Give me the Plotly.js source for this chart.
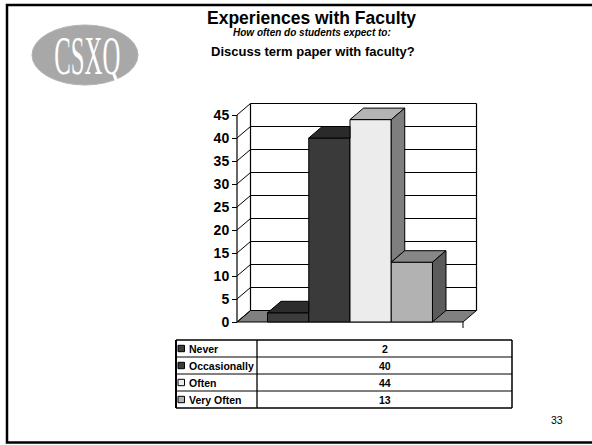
<!DOCTYPE html>
<html>
<head>
<meta charset="utf-8">
<script src="https://cdn.plot.ly/plotly-3.0.1.min.js"></script>
<style>
html,body{margin:0;padding:0;background:#fff;}
#chart{width:592px;height:445px;}
</style>
</head>
<body>
<div id="chart"></div>
<script>
// ---------- data ----------
const categories = ['Never', 'Occasionally', 'Often', 'Very Often'];
const values = [2, 40, 44, 13];
const yTickValues = [0, 5, 10, 15, 20, 25, 30, 35, 40, 45];
const yTickLabels = ['0', '5', '10', '15', '20', '25', '30', '35', '40', '45'];
const titleText = 'Experiences with Faculty';
const subtitleText = 'How often do students expect to:';
const questionText = 'Discuss term paper with faculty?';
const logoText = 'CSXQ';
const pageNumber = '33';

// ---------- styles ----------
const frontColors = ['#3c3c3c', '#3a3a3a', '#ececec', '#b2b2b2'];
const topColors   = ['#2c2c2c', '#2a2a2a', '#b4b4b4', '#878787'];
const sideColors  = ['#1e1e1e', '#1e1e1e', '#7e7e7e', '#5b5b5b'];
const floorColor = '#808080';
const FONT = 'Liberation Sans, Arial, sans-serif';

// ---------- geometry (pixels) ----------
const W = 592, H = 445;
const floorL = 237, floorR = 463, y0px = 322, pxPerUnit = 4.6;
const depthXpx = 13.5, depthYpx = 11.5;
const unitPx = floorR - floorL;
const ddx = depthXpx / unitPx;
const ddy = depthYpx / pxPerUnit;
const yMax = 45;
const bargap = 0.27;
const groupW = 1 - bargap;
const barW = groupW / values.length;

const xRange = [-0.5 - 3 / unitPx, 0.5 + ddx + 3 / unitPx];
const yRange = [-1, yMax + ddy + 0.6];
const xDomPx = [floorL + (xRange[0] + 0.5) * unitPx, floorL + (xRange[1] + 0.5) * unitPx];
const yDomPx = [y0px - yRange[0] * pxPerUnit, y0px - yRange[1] * pxPerUnit];
const PX = x => x / W;
const PY = y => 1 - y / H;

// ---------- traces ----------
const traces = [];
values.forEach((v, i) => {
  traces.push({
    type: 'bar', x: [0], y: [v], name: categories[i],
    width: barW, offset: -groupW / 2 + i * barW,
    marker: {color: frontColors[i], line: {color: '#000', width: 1}},
    hoverinfo: 'name+y', showlegend: false
  });
});
values.forEach((v, i) => {
  const x0 = -groupW / 2 + i * barW, x1 = x0 + barW;
  const next = i < values.length - 1 ? values[i + 1] : 0;
  // top face, clipped where the next (taller) bar hides it
  let tx, ty;
  if (next <= v) {
    tx = [x0, x1, x1 + ddx, x0 + ddx, x0];
    ty = [v, v, v + ddy, v + ddy, v];
  } else if (next >= v + ddy) {
    tx = [x0, x1, x1, x0 + ddx, x0];
    ty = [v, v, v + ddy, v + ddy, v];
  } else {
    const xr = x1 + ddx * (next - v) / ddy;
    tx = [x0, x1, x1, xr, x1 + ddx, x0 + ddx, x0];
    ty = [v, v, next, next, v + ddy, v + ddy, v];
  }
  traces.push({
    type: 'scatter', mode: 'lines', fill: 'toself', fillcolor: topColors[i],
    x: tx, y: ty,
    line: {color: '#000', width: 1}, hoverinfo: 'skip', showlegend: false
  });
  // side face, only the part above the next bar
  if (next < v) {
    traces.push({
      type: 'scatter', mode: 'lines', fill: 'toself', fillcolor: sideColors[i],
      x: [x1, x1, x1 + ddx, x1 + ddx, x1],
      y: [next, v, v + ddy, next + ddy, next],
      line: {color: '#000', width: 1}, hoverinfo: 'skip', showlegend: false
    });
  }
});

// ---------- shapes ----------
const shapes = [];
const L = (x0, y0, x1, y1, w, ref) => ({
  type: 'line', xref: ref || 'x', yref: ref || 'y', x0, y0, x1, y1,
  line: {color: '#000', width: w || 1}, layer: 'below'
});
// floor
shapes.push({
  type: 'path', xref: 'x', yref: 'y', layer: 'below',
  path: `M ${-0.5},0 L 0.5,0 L ${0.5 + ddx},${ddy} L ${-0.5 + ddx},${ddy} Z`,
  fillcolor: floorColor, line: {color: '#000', width: 1}
});
// back wall grid + left wall diagonals
yTickValues.forEach(t => {
  if (t > 0) shapes.push(L(-0.5 + ddx, t + ddy, 0.5 + ddx, t + ddy, 1.2));
  shapes.push(L(-0.5, t, -0.5 + ddx, t + ddy));
});
shapes.push(L(-0.5 + ddx, ddy, -0.5 + ddx, yMax + ddy, 1.2));
shapes.push(L(0.5 + ddx, ddy, 0.5 + ddx, yMax + ddy, 1.2));
shapes.push(L(-0.5, 0, -0.5, yMax, 1.2));
// bottom right tick
shapes.push(L(PX(floorR), PY(y0px), PX(floorR), PY(y0px + 6), 1, 'paper'));
// frame
shapes.push({type: 'rect', xref: 'paper', yref: 'paper', x0: PX(7), y0: PY(442.5), x1: PX(620), y1: PY(5),
  line: {color: '#000', width: 2.5}, layer: 'above'});
// logo ellipse
shapes.push({type: 'circle', xref: 'paper', yref: 'paper', x0: PX(32), x1: PX(138), y0: PY(85), y1: PY(25),
  fillcolor: '#a8a8a8', line: {color: '#b4b4b4', width: 1}, layer: 'above'});

// ---------- table ----------
const tblL = 176, tblDiv = 257, tblR = 512, tblTop = 340, rowH = 17;
const tblBot = tblTop + rowH * categories.length;
for (let r = 0; r <= categories.length; r++) {
  const y = tblTop + r * rowH;
  shapes.push(L(PX(tblL), PY(y), PX(tblR), PY(y), (r === 0 || r === categories.length) ? 1.5 : 1, 'paper'));
}
shapes.push(L(PX(tblL), PY(tblTop), PX(tblL), PY(tblBot), 2, 'paper'));
shapes.push(L(PX(tblDiv), PY(tblTop), PX(tblDiv), PY(tblBot), 1.3, 'paper'));
shapes.push(L(PX(tblR), PY(tblTop), PX(tblR), PY(tblBot), 1.5, 'paper'));

const annotations = [];
const A = (text, x, y, size, extra) => Object.assign({
  text, xref: 'paper', yref: 'paper', x: PX(x), y: PY(y), showarrow: false,
  xanchor: 'center', yanchor: 'middle', font: {family: FONT, size, color: '#000'}
}, extra || {});

categories.forEach((c, r) => {
  const yc = tblTop + r * rowH + rowH / 2;
  shapes.push({type: 'rect', xref: 'paper', yref: 'paper', x0: PX(178), x1: PX(184.5), y0: PY(yc + 3.2), y1: PY(yc - 3.2),
    fillcolor: frontColors[r], line: {color: '#000', width: 1}, layer: 'above'});
  annotations.push(A('<b>' + c + '</b>', 186.5, yc + 0.5, 10.5, {xanchor: 'left'}));
  annotations.push(A('<b>' + values[r] + '</b>', (tblDiv + tblR) / 2, yc + 0.5, 10.5));
});

// titles
annotations.push(A('<b>' + titleText + '</b>', 312, 18, 17.5));
annotations.push(A('<b><i>' + subtitleText + '</i></b>', 312, 32.5, 10));
annotations.push(A('<b>' + questionText + '</b>', 312.5, 51, 13));
annotations.push(A(pageNumber, 557, 420, 10.5));
annotations.push(A(logoText, 87.5, 56, 55, {font: {family: 'Liberation Serif, Times New Roman, serif', size: 55, color: '#ffffff'}}));

const layout = {
  width: W, height: H,
  margin: {l: 0, r: 0, t: 0, b: 0, pad: 0},
  paper_bgcolor: '#fff', plot_bgcolor: 'rgba(0,0,0,0)',
  showlegend: false,
  barmode: 'overlay',
  xaxis: {
    domain: [PX(xDomPx[0]), PX(xDomPx[1])], range: xRange,
    showgrid: false, zeroline: false, showticklabels: false, ticks: '', showline: false, fixedrange: true
  },
  yaxis: {
    domain: [PY(yDomPx[0]), PY(yDomPx[1])], range: yRange,
    tickvals: yTickValues, ticktext: yTickLabels, ticks: 'outside', ticklen: 5, tickcolor: '#000', tickwidth: 1,
    tickfont: {family: FONT, size: 14, color: '#000', weight: 'bold'},
    showgrid: false, zeroline: false, showline: false, fixedrange: true,
    anchor: 'free', position: PX(floorL)
  },
  shapes, annotations
};

Plotly.newPlot('chart', traces, layout, {staticPlot: true, displayModeBar: false}).then(() => {
  document.querySelectorAll('.annotation-text').forEach(t => {
    if (t.textContent === logoText) {
      t.setAttribute('textLength', '66');
      t.setAttribute('lengthAdjust', 'spacingAndGlyphs');
    }
  });
});
</script>
</body>
</html>
